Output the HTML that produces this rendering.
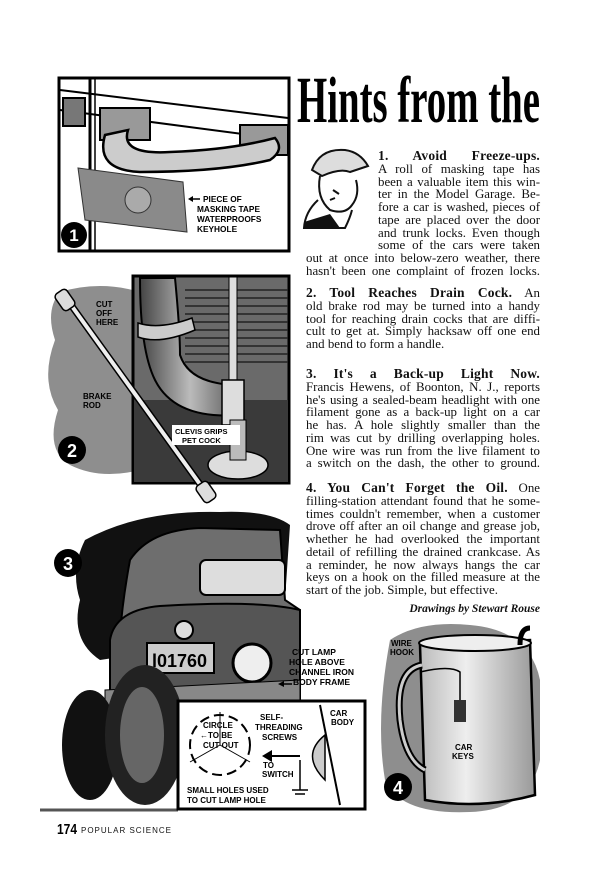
<!DOCTYPE html>
<html><head><meta charset="utf-8"><style>
body{margin:0;background:#fff;}
#pg{position:relative;width:600px;height:877px;overflow:hidden;background:#fff;font-family:"Liberation Serif",serif;color:#111;}
.t{position:absolute;font-size:12.9px;line-height:12.75px;}
.t span{display:block;text-align:justify;text-align-last:justify;white-space:nowrap;}
.t span.l{text-align-last:left;}
.h{font-weight:bold;font-size:13.5px;letter-spacing:0.2px;}
svg{position:absolute;left:0;top:0;}
</style></head><body><div id="pg">
<svg width="600" height="877" viewBox="0 0 600 877" font-family="Liberation Sans, sans-serif">
<defs>
<linearGradient id="jug" x1="0" x2="1"><stop offset="0" stop-color="#bbb"/><stop offset="0.4" stop-color="#eee"/><stop offset="1" stop-color="#999"/></linearGradient>
<linearGradient id="pipe" x1="0" x2="1"><stop offset="0" stop-color="#444"/><stop offset="0.5" stop-color="#bbb"/><stop offset="1" stop-color="#555"/></linearGradient>
</defs>
<text x="297" y="122" font-family="Liberation Serif, serif" font-weight="bold" font-size="66" textLength="243" lengthAdjust="spacingAndGlyphs" fill="#000">Hints from the</text>
<g fill="none" stroke="#111" stroke-width="2">
<path d="M312 170 Q320 148 345 150 Q360 152 368 166 L350 172 Q340 168 322 176 Z" fill="#ddd"/>
<path d="M320 176 Q316 198 330 210 Q345 215 352 205 Q360 195 356 180"/>
<path d="M318 200 Q305 212 304 228 L345 228 Q350 218 352 210"/>
<path d="M333 190 l6 4 M330 200 l5 -2"/>
</g>
<path d="M304 222 L330 214 L340 228 L304 228Z" fill="#111"/>
<rect x="59" y="78" width="230" height="173" fill="#fff" stroke="#000" stroke-width="3"/>
<line x1="90" y1="79" x2="90" y2="250" stroke="#000" stroke-width="3"/>
<line x1="95" y1="79" x2="95" y2="250" stroke="#000" stroke-width="1.5"/>
<path d="M60 90 L288 118 M60 110 L288 140" stroke="#000" stroke-width="2"/>
<rect x="63" y="98" width="22" height="28" fill="#777" stroke="#000" stroke-width="2"/>
<rect x="100" y="108" width="50" height="32" fill="#999" stroke="#000" stroke-width="2"/>
<rect x="240" y="125" width="48" height="30" fill="#999" stroke="#000" stroke-width="2"/>
<path d="M105 135 Q95 170 140 172 Q220 172 270 160 Q285 150 275 138 Q230 150 170 152 Q120 155 128 130 Z" fill="#ccc" stroke="#000" stroke-width="2.5"/>
<path d="M78 168 L183 182 L187 232 L85 220 Z" fill="#8a8a8a" stroke="#333" stroke-width="1"/>
<circle cx="138" cy="200" r="13" fill="#aaa" stroke="#333"/>
<path d="M190 199 L200 199" stroke="#000" stroke-width="1.5"/><path d="M188 199 l5 -3 v6z" fill="#000"/>
<g font-weight="bold" font-size="8.3" fill="#000"><text x="203" y="202">PIECE OF</text><text x="197" y="212">MASKING TAPE</text><text x="197" y="222">WATERPROOFS</text><text x="197" y="232">KEYHOLE</text></g>
<circle cx="74" cy="235" r="13" fill="#000"/><text x="74" y="241" fill="#fff" font-weight="bold" font-size="17" text-anchor="middle">1</text>
<path d="M60 292 Q100 280 140 292 L140 470 Q100 480 70 465 Q45 450 58 410 Q40 380 55 340 Q45 310 60 292Z" fill="#8e8e8e"/>
<rect x="133" y="276" width="156" height="207" fill="#6a6a6a" stroke="#000" stroke-width="3"/>
<g stroke="#222" stroke-width="1.5">
<line x1="185" y1="290" x2="288" y2="290"/><line x1="185" y1="298" x2="288" y2="298"/><line x1="185" y1="306" x2="288" y2="306"/><line x1="185" y1="314" x2="288" y2="314"/><line x1="185" y1="322" x2="288" y2="322"/><line x1="185" y1="330" x2="288" y2="330"/><line x1="185" y1="338" x2="288" y2="338"/><line x1="185" y1="346" x2="288" y2="346"/><line x1="185" y1="354" x2="288" y2="354"/><line x1="185" y1="362" x2="288" y2="362"/>
</g>
<rect x="134" y="400" width="154" height="82" fill="#3a3a3a"/>
<path d="M140 278 L175 278 Q180 330 180 355 Q190 385 240 385 L240 415 Q175 420 155 380 Q140 350 140 278Z" fill="url(#pipe)" stroke="#000" stroke-width="2"/>
<path d="M138 323 Q160 330 192 318 L195 330 Q160 345 138 337Z" fill="#ccc" stroke="#000" stroke-width="1.5"/>
<rect x="229" y="277" width="8" height="110" fill="#ddd" stroke="#000"/>
<rect x="222" y="380" width="22" height="45" fill="#ddd" stroke="#000" stroke-width="1.5"/>
<ellipse cx="238" cy="465" rx="30" ry="14" fill="#ddd" stroke="#000" stroke-width="1.5"/>
<rect x="230" y="420" width="16" height="40" fill="#bbb" stroke="#000"/>
<path d="M66 298 L207 494" stroke="#000" stroke-width="7" stroke-linecap="round"/>
<path d="M66 298 L207 494" stroke="#eee" stroke-width="4" stroke-linecap="round"/>
<rect x="58" y="290" width="14" height="20" rx="4" fill="#ddd" stroke="#000" stroke-width="1.5" transform="rotate(-35 65 300)"/>
<rect x="199" y="482" width="14" height="20" rx="4" fill="#ddd" stroke="#000" stroke-width="1.5" transform="rotate(-35 206 492)"/>
<g font-weight="bold" font-size="8" fill="#000"><text x="96" y="307">CUT</text><text x="96" y="316">OFF</text><text x="96" y="325">HERE</text><text x="83" y="399">BRAKE</text><text x="83" y="408">ROD</text></g>
<rect x="172" y="425" width="68" height="20" fill="#fff"/>
<g font-weight="bold" font-size="7.5" fill="#000"><text x="175" y="434">CLEVIS GRIPS</text><text x="182" y="443">PET COCK</text></g>
<circle cx="72" cy="450" r="14" fill="#000"/><text x="72" y="457" fill="#fff" font-weight="bold" font-size="18" text-anchor="middle">2</text>
<path d="M85 540 Q140 510 220 512 Q270 510 290 525 L285 600 L230 640 L100 660 Q70 640 80 600 Q70 570 85 540Z" fill="#111"/>
<path d="M130 560 Q150 530 200 528 L280 530 L285 600 L300 610 L300 690 L120 700 Q115 640 130 560Z" fill="#6e6e6e" stroke="#000" stroke-width="2"/>
<rect x="200" y="560" width="85" height="35" rx="6" fill="#ddd" stroke="#000" stroke-width="2"/>
<path d="M110 640 Q115 610 160 606 Q260 600 300 610 L300 700 L110 705Z" fill="#555" stroke="#000" stroke-width="2"/>
<rect x="147" y="643" width="67" height="30" fill="#ccc" stroke="#000" stroke-width="2"/>
<text x="152" y="667" font-weight="bold" font-size="18" fill="#000">l01760</text>
<circle cx="184" cy="630" r="9" fill="#ddd" stroke="#000" stroke-width="2"/>
<circle cx="252" cy="663" r="19" fill="#eee" stroke="#000" stroke-width="3"/>
<path d="M105 690 L300 680 L300 700 L105 712Z" fill="#888" stroke="#000"/>
<ellipse cx="90" cy="745" rx="28" ry="55" fill="#111"/>
<ellipse cx="145" cy="735" rx="40" ry="70" fill="#222"/>
<ellipse cx="142" cy="735" rx="22" ry="48" fill="#666"/>
<path d="M40 810 L178 810" stroke="#555" stroke-width="3"/>
<circle cx="68" cy="563" r="14" fill="#000"/><text x="68" y="570" fill="#fff" font-weight="bold" font-size="18" text-anchor="middle">3</text>
<path d="M282 684 L292 684" stroke="#000" stroke-width="1.5"/><path d="M278 684 l6 -3 v6z" fill="#000"/>
<g font-weight="bold" font-size="8.5" fill="#000"><text x="292" y="655">CUT LAMP</text><text x="289" y="665">HOLE ABOVE</text><text x="289" y="675">CHANNEL IRON</text><text x="293" y="685">BODY FRAME</text></g>
<rect x="178" y="701" width="187" height="108" fill="#fff" stroke="#000" stroke-width="3"/>
<circle cx="220" cy="745" r="30" fill="none" stroke="#000" stroke-width="2" stroke-dasharray="10 5"/>
<path d="M220 745 L190 762 M220 745 L250 762 M220 745 V712" stroke="#000" stroke-width="1"/>
<g font-weight="bold" font-size="8" fill="#000"><text x="203" y="728">CIRCLE</text><text x="200" y="738">←TO BE</text><text x="203" y="748">CUT OUT</text>
<text x="260" y="720">SELF-</text><text x="255" y="730">THREADING</text><text x="262" y="740">SCREWS</text><text x="263" y="768">TO</text><text x="262" y="777">SWITCH</text>
<text x="330" y="716">CAR</text><text x="331" y="725">BODY</text>
<text x="187" y="793">SMALL HOLES USED</text><text x="187" y="803">TO CUT LAMP HOLE</text></g>
<path d="M320 705 L340 805" stroke="#000" stroke-width="2"/>
<path d="M325 735 Q300 755 325 780 Z" fill="#ccc" stroke="#000" stroke-width="1.5"/>
<path d="M270 756 H300" stroke="#000" stroke-width="2"/><path d="M262 756 l10 -6 v12z" fill="#000"/>
<path d="M300 760 V790 M292 790 h16 M295 794 h10" stroke="#000" stroke-width="1.5"/>
<path d="M390 640 Q420 620 470 625 Q530 630 540 680 L540 760 Q530 810 470 812 Q400 815 385 780 Q375 720 390 640Z" fill="#8e8e8e"/>
<path d="M420 645 L530 640 L535 795 Q480 810 425 800 Z" fill="url(#jug)" stroke="#000" stroke-width="2.5"/>
<ellipse cx="475" cy="643" rx="56" ry="8" fill="#eee" stroke="#000" stroke-width="2"/>
<path d="M520 645 Q520 628 530 628" stroke="#000" stroke-width="5" fill="none"/>
<path d="M422 665 Q395 670 400 720 Q405 760 425 770" stroke="#000" stroke-width="7" fill="none"/>
<path d="M422 665 Q395 670 400 720 Q405 760 425 770" stroke="#ccc" stroke-width="3" fill="none"/>
<path d="M420 672 Q450 665 460 672 V720" stroke="#000" stroke-width="1.5" fill="none"/>
<rect x="454" y="700" width="12" height="22" fill="#333"/>
<g font-weight="bold" font-size="8" fill="#000"><text x="391" y="646">WIRE</text><text x="390" y="655">HOOK</text><text x="455" y="750">CAR</text><text x="452" y="759">KEYS</text></g>
<circle cx="398" cy="787" r="14" fill="#000"/><text x="398" y="794" fill="#fff" font-weight="bold" font-size="18" text-anchor="middle">4</text>
<text x="57" y="834" font-family="Liberation Sans Narrow, Liberation Sans, sans-serif" font-weight="bold" font-size="15" textLength="20" lengthAdjust="spacingAndGlyphs">174</text>
<text x="81" y="833" font-size="8" letter-spacing="1" fill="#111">POPULAR SCIENCE</text>
</svg>

<div class="t" style="left:378px;top:150px;width:162px;">
<span class="h">1. Avoid Freeze-ups.</span>
<span>A roll of masking tape has</span>
<span>been a valuable item this win-</span>
<span>ter in the Model Garage. Be-</span>
<span>fore a car is washed, pieces of</span>
<span>tape are placed over the door</span>
<span>and trunk locks. Even though</span>
<span>some of the cars were taken</span>
</div>
<div class="t" style="left:306px;top:252px;width:234px;">
<span>out at once into below-zero weather, there</span>
<span>hasn't been one complaint of frozen locks.</span>
</div>
<div class="t" style="left:306px;top:287px;width:234px;">
<span><b class="h">2. Tool Reaches Drain Cock.</b> An</span>
<span>old brake rod may be turned into a handy</span>
<span>tool for reaching drain cocks that are diffi-</span>
<span>cult to get at. Simply hacksaw off one end</span>
<span class="l">and bend to form a handle.</span>
</div>
<div class="t" style="left:306px;top:368px;width:234px;">
<span class="h">3. It's a Back-up Light Now.</span>
<span>Francis Hewens, of Boonton, N. J., reports</span>
<span>he's using a sealed-beam headlight with one</span>
<span>filament gone as a back-up light on a car</span>
<span>he has. A hole slightly smaller than the</span>
<span>rim was cut by drilling overlapping holes.</span>
<span>One wire was run from the live filament to</span>
<span>a switch on the dash, the other to ground.</span>
</div>
<div class="t" style="left:306px;top:482px;width:234px;">
<span><b class="h">4. You Can't Forget the Oil.</b> One</span>
<span>filling-station attendant found that he some-</span>
<span>times couldn't remember, when a customer</span>
<span>drove off after an oil change and grease job,</span>
<span>whether he had overlooked the important</span>
<span>detail of refilling the drained crankcase. As</span>
<span>a reminder, he now always hangs the car</span>
<span>keys on a hook on the filled measure at the</span>
<span class="l">start of the job. Simple, but effective.</span>
</div>
<div style="position:absolute;left:396px;top:603px;width:144px;text-align:right;font-weight:bold;font-style:italic;font-size:11.5px;">Drawings by Stewart Rouse</div>
</div></body></html>
